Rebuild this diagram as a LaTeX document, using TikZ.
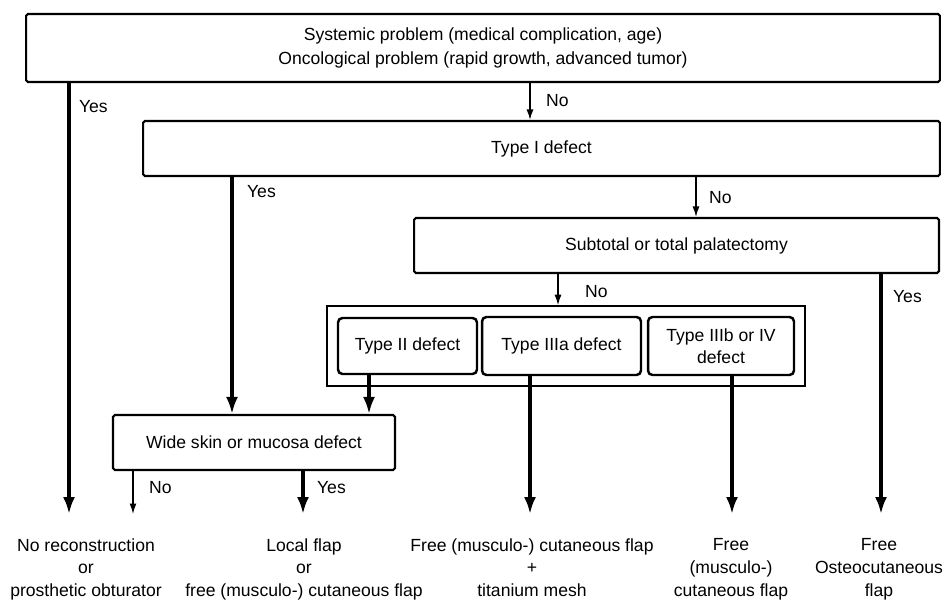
\documentclass[tikz,border=0pt]{standalone}
\usepackage{fontspec}
\setmainfont{Liberation Sans}
\usetikzlibrary{positioning,arrows.meta,fit,calc}
\tikzset{
  yesarrow/.style={-{Latex[length=3.4mm,width=2.4mm]}, line width=1.8pt},
  noarrow/.style={-{Latex[length=2.1mm,width=1.4mm]}, line width=0.8pt},
  tooutcome/.style={shorten >=0.48cm},
  decbox/.style={draw, line width=1.2pt, rounded corners=1pt, align=center, inner sep=0pt},
  typebox/.style={draw, line width=1.4pt, rounded corners=2.5pt, align=center, inner sep=0pt},
  groupbox/.style={draw, line width=1.2pt, inner sep=0.19cm},
  outcome/.style={align=center, anchor=north, inner sep=0pt, font=\fontsize{10}{13}\selectfont},
  branch/.style={anchor=west, inner sep=1pt}
}

\begin{document}
\begin{tikzpicture}[>=Latex, x=0.02cm, y=-0.02cm, every node/.style={font=\fontsize{10}{12.5}\selectfont}]
  \useasboundingbox (0,0) rectangle (947,604);
  % decision boxes
  \node[decbox, minimum width=18.28cm, minimum height=1.36cm] (sys) at (483,48)
    {Systemic problem (medical complication, age)\\[1.5pt]Oncological problem (rapid growth, advanced tumor)};
  \node[decbox, minimum width=15.94cm, minimum height=1.1cm] (type1) at (541.5,148.5) {Type I defect};
  \node[decbox, minimum width=10.5cm, minimum height=1.1cm] (palat) at (676.5,245.5) {Subtotal or total palatectomy};
  \node[typebox, minimum width=2.78cm, minimum height=1.12cm] (type2) at (407.5,346) {Type II defect};
  \node[typebox, minimum width=3.18cm, minimum height=1.16cm] (type3a) at (561.5,346) {Type IIIa defect};
  \node[typebox, minimum width=2.92cm, minimum height=1.16cm] (type3b) at (721,346) {Type IIIb or IV\\defect};
  \node[groupbox, fit=(type2)(type3a)(type3b)] (group) {};
  \node[decbox, minimum width=5.64cm, minimum height=1.1cm] (wide) at (254,442.5) {Wide skin or mucosa defect};
  % outcomes
  \node[outcome] (norec) at (86,538) {No reconstruction\\or\\prosthetic obturator};
  \node[outcome] (local) at (304,538) {Local flap\\or\\free (musculo-) cutaneous flap};
  \node[outcome] (mesh) at (532,538) {Free (musculo-) cutaneous flap\\+\\titanium mesh};
  \node[outcome] (freecut) at (731,538) {Free\\(musculo-)\\cutaneous flap};
  \node[outcome] (osteo) at (879,538) {Free\\Osteocutaneous\\flap};
  % connectors
  \draw[yesarrow, tooutcome] (sys.south -| 69,0) -- (norec.north -| 69,0);
  \draw[noarrow] (sys.south -| 530,0) -- (type1.north -| 530,0);
  \draw[yesarrow] (type1.south -| 232,0) -- (wide.north -| 232,0);
  \draw[noarrow] (type1.south -| 696,0) -- (palat.north -| 696,0);
  \draw[noarrow] (palat.south -| 558,0) -- (group.north -| 558,0);
  \draw[yesarrow, tooutcome] (palat.south -| 881,0) -- (osteo.north -| 881,0);
  \draw[yesarrow] (type2.south -| 369,0) -- (wide.north -| 369,0);
  \draw[yesarrow, tooutcome] (type3a.south -| 530,0) -- (mesh.north -| 530,0);
  \draw[yesarrow, tooutcome] (type3b.south -| 732,0) -- (freecut.north -| 732,0);
  \draw[noarrow, tooutcome] (wide.south -| 133,0) -- (norec.north -| 133,0);
  \draw[yesarrow, tooutcome] (wide.south -| 303,0) -- (local.north -| 303,0);
  % branch labels
  \node[branch] (yes1) at (77,107) {Yes};
  \node[branch] (no1) at (544,101) {No};
  \node[branch] (yes2) at (245,192) {Yes};
  \node[branch] (no2) at (707,198) {No};
  \node[branch] (no3) at (583,292) {No};
  \node[branch] (yes3) at (891,297) {Yes};
  \node[branch] (no4) at (147,488) {No};
  \node[branch] (yes4) at (315,488) {Yes};
\end{tikzpicture}
\end{document}
